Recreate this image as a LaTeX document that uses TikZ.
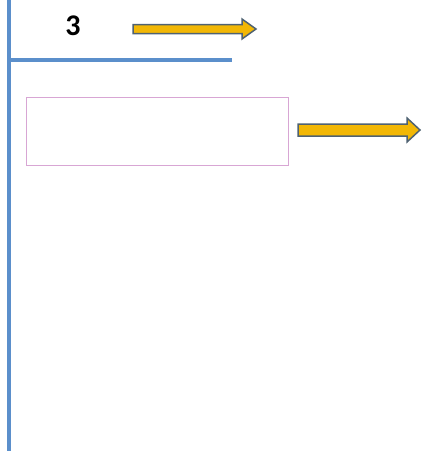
\documentclass[tikz,border=0pt]{standalone}
\usepackage{fontspec}
\setmainfont{Carlito}
\definecolor{lineblue}{HTML}{5B8FCB}
\definecolor{boxpink}{HTML}{D8A6D4}
\definecolor{arrowfill}{HTML}{F2B705}
\definecolor{arrowedge}{HTML}{4F6272}
\tikzset{
  rule/.style={draw=lineblue, line width=3.2pt},
  fatarrow/.style={fill=arrowfill, draw=arrowedge, line width=1.5pt, line join=miter},
}
\begin{document}
\begin{tikzpicture}[x=1pt,y=-1pt]
      \useasboundingbox (0,0) rectangle (422,459);

      \coordinate (top) at (9,0);
      \coordinate (bottom) at (9,451);
      \coordinate (bar) at (9,60);
      \coordinate (barend) at (232,60);

      \node (num) at (73,26) {\fontsize{30}{32}\selectfont\bfseries 3};
      \node[draw=boxpink, line width=1pt, minimum width=262pt, minimum height=68pt, inner sep=0pt] (box) at (157,131) {};

      \draw[rule] (top) -- (bottom);
      \draw[rule] (bar) -- (barend);

      \draw[fatarrow] (133,24.5) -- (242,24.5) -- (242,19) -- (256,29) -- (242,39) -- (242,33.5) -- (133,33.5) -- cycle;
      \draw[fatarrow] (298,124) -- (407,124) -- (407,118) -- (420,130) -- (407,142) -- (407,136) -- (298,136) -- cycle;
    \end{tikzpicture}
\end{document}
